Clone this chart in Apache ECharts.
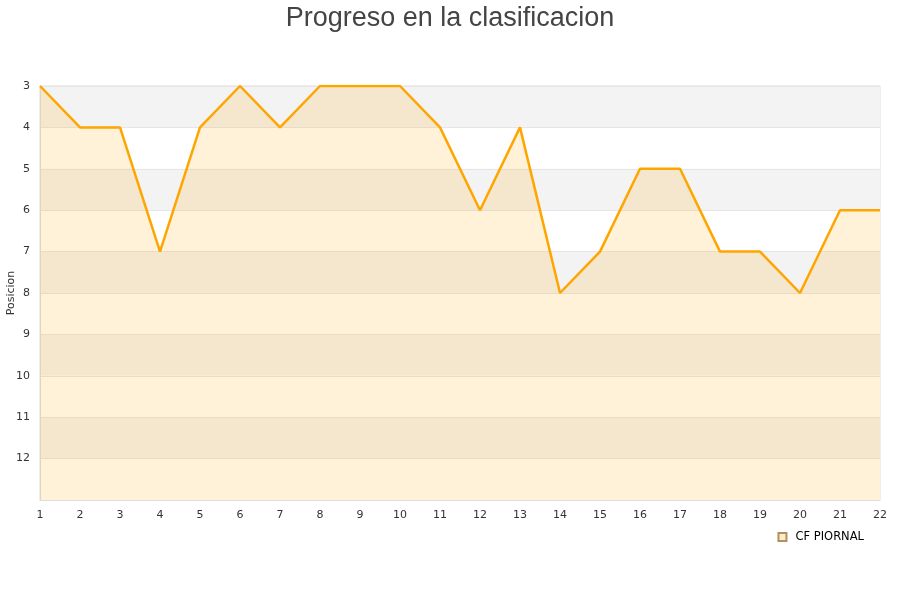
<!DOCTYPE html>
<html><head><meta charset="utf-8">
<script src="https://cdn.jsdelivr.net/npm/echarts@6/dist/echarts.min.js"></script>
<style>html,body{margin:0;padding:0;background:#fff}#c{width:900px;height:600px}</style>
</head><body><div id="c"></div>
<script>
var jornadas = ['1','2','3','4','5','6','7','8','9','10','11','12','13','14','15','16','17','18','19','20','21','22'];
var posiciones = [3,4,4,7,4,3,4,3,3,3,4,6,4,8,7,5,5,7,7,8,6,6];
var seriesName = 'CF PIORNAL';
var chart = echarts.init(document.getElementById('c'), null, {renderer:'canvas'});
chart.setOption({
  animation:false,
  title:{text:'Progreso en la clasificacion',left:'center',top:0,textStyle:{fontFamily:'Liberation Sans',fontSize:27,fontWeight:'normal',color:'#444'}},
  grid:{left:40,right:20,top:86,bottom:100,containLabel:false,outerBoundsMode:'none',show:true,borderColor:'#ddd',borderWidth:1,backgroundColor:'transparent'},
  legend:{data:[{name:seriesName,icon:'rect'}],right:31,bottom:52,itemWidth:8,itemHeight:8,itemGap:8,textStyle:{fontFamily:'DejaVu Sans',fontSize:11.5,color:'#000',padding:[0,0,0,4]}},
  xAxis:{type:'category',data:jornadas,boundaryGap:false,
    axisLine:{show:true,lineStyle:{color:'#ddd'}},axisTick:{show:false},
    axisLabel:{fontFamily:'DejaVu Sans',fontSize:11,color:'#333',margin:10},
    splitLine:{show:false}},
  yAxis:{type:'value',inverse:true,min:3,max:13,interval:1,name:'Posicion',nameLocation:'middle',nameGap:23,nameMoveOverlap:false,
    nameTextStyle:{fontFamily:'DejaVu Sans',fontSize:11,color:'#333'},
    axisLine:{show:true,lineStyle:{color:'#ddd'}},axisTick:{show:false},
    axisLabel:{fontFamily:'DejaVu Sans',fontSize:11,color:'#333',margin:10,formatter:function(v){return v===13?'':v;}},
    splitLine:{show:true,lineStyle:{color:'#e6e6e6'}},
    splitArea:{show:true,areaStyle:{color:['#f3f3f3','#ffffff']}}},
  series:[{name:seriesName,type:'line',data:posiciones,symbol:'none',
    lineStyle:{color:'#ffa500',width:2.5},itemStyle:{color:'#ffecc9',borderColor:'#b09060',borderWidth:1},
    areaStyle:{color:'rgba(255,165,0,0.21)',origin:'end'}}]
});
</script></body></html>
